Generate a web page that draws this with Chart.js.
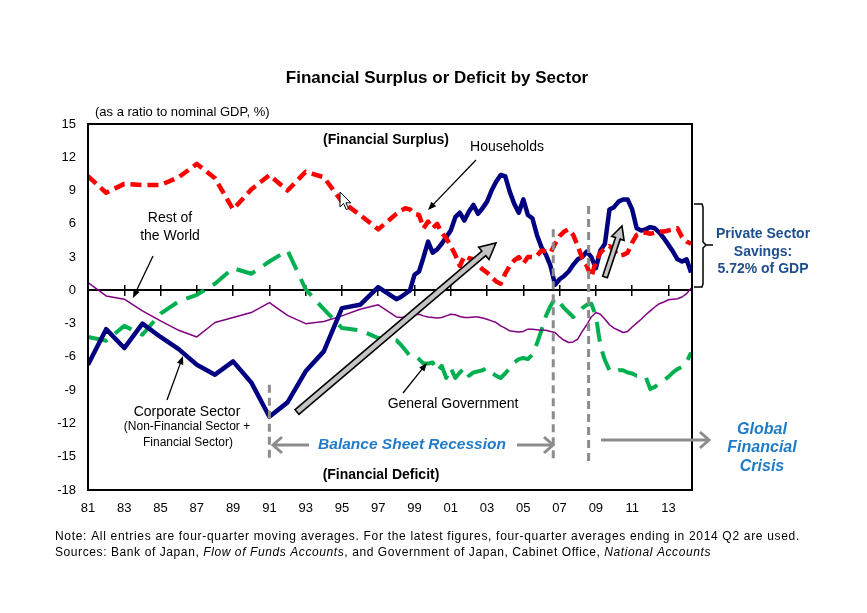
<!DOCTYPE html>
<html>
<head>
<meta charset="utf-8">
<script src="https://cdn.jsdelivr.net/npm/chart.js@4.4.1/dist/chart.umd.min.js"></script>
<style>
  html, body { margin: 0; padding: 0; background: #fff; }
  canvas { display: block; }
</style>
</head>
<body>
<canvas id="sectorChart" width="867" height="613"></canvas>
<script>
// time positions: annual points up to 1997, quarterly from 1998
const periods = [
  1981, 1982, 1983, 1984, 1985, 1986, 1987, 1988, 1989, 1990, 1991, 1992, 1993, 1994, 1995, 1996, 1997,
  1998, 1998.25, 1998.5, 1998.75, 1999, 1999.25, 1999.5, 1999.75,
  2000, 2000.25, 2000.5, 2000.75, 2001, 2001.25, 2001.5, 2001.75,
  2002, 2002.25, 2002.5, 2002.75, 2003, 2003.25, 2003.5, 2003.75,
  2004, 2004.25, 2004.5, 2004.75, 2005, 2005.25, 2005.5, 2005.75,
  2006, 2006.25, 2006.5, 2006.75, 2007, 2007.25, 2007.5, 2007.75,
  2008, 2008.25, 2008.5, 2008.75, 2009, 2009.25, 2009.5, 2009.75,
  2010, 2010.25, 2010.5, 2010.75, 2011, 2011.25, 2011.5, 2011.75,
  2012, 2012.25, 2012.5, 2012.75, 2013, 2013.25, 2013.5, 2013.75,
  2014, 2014.25
];

const households = [
  10.3, 8.8, 9.6, 9.5, 9.5, 10.2, 11.4, 10.1, 7.3, 9.1, 10.4, 9.0, 10.7, 10.2, 8.0, 6.8, 5.5,
  6.9, 7.2, 7.4, 7.3, 6.9, 6.8, 5.6, 6.2,
  5.6, 6.0, 5.2, 4.7, 4.0, 3.2, 2.2, 3.1,
  2.9, 2.8, 2.3, 1.9, 1.6, 1.2, 0.8, 0.6,
  1.5, 2.2, 2.7, 3.0, 2.4, 3.0, 3.0, 3.1,
  3.6, 3.5, 3.4, 4.2, 4.9, 5.3, 5.5, 5.0,
  4.0, 2.9, 2.2, 1.2, 2.6, 3.4, 3.8, 4.0,
  3.6, 3.1, 3.2, 3.4, 4.3, 5.0, 5.2, 5.2,
  5.1, 5.2, 5.3, 5.3, 5.4, 5.5, 5.6, 4.8,
  4.4, 4.2
];

const corporate = [
  -6.7, -3.5, -5.2, -3.0, -4.2, -5.3, -6.7, -7.6, -6.4, -8.3, -11.4, -10.1, -7.3, -5.5, -1.6, -1.3, 0.3,
  -0.8, -0.6, -0.3, 0.0, 1.4, 1.7, 3.0, 4.4,
  3.4, 3.7, 4.2, 4.8, 5.4, 6.6, 7.0, 6.3,
  7.1, 7.7, 6.9, 7.4, 8.0, 9.0, 9.8, 10.4,
  10.3, 8.9, 7.8, 7.0, 8.2, 6.8, 6.5, 5.0,
  3.9, 3.2, 2.2, 0.5, 1.0, 1.3, 1.7, 2.3,
  2.8, 3.0, 3.5, 3.0, 2.0, 3.6, 4.2, 7.3,
  7.5, 8.0, 8.2, 8.2, 7.3, 5.6, 5.4, 5.5,
  5.7, 5.6, 5.2, 4.7, 4.1, 3.5, 2.8, 2.6,
  2.8, 1.6
];

const government = [
  -4.2, -4.55, -3.2, -4.0, -2.1, -1.0, -0.4, 0.6, 2.0, 1.5, 2.6, 3.6, 0.1, -1.7, -3.4, -3.6, -4.3,
  -4.5, -4.9, -5.4, -5.9, -5.9, -6.2, -6.6, -6.6,
  -6.5, -7.3, -6.8, -7.9, -7.0, -7.9, -7.4, -7.0,
  -7.7, -7.4, -7.3, -7.2, -7.0, -7.4, -7.7, -7.9,
  -7.5, -7.0, -6.5, -6.2, -6.1, -6.2, -5.8, -4.8,
  -3.6, -2.3, -1.4, -0.7, -1.1, -1.6, -2.0, -2.4,
  -2.0, -1.6, -1.3, -1.2, -2.3, -5.0, -6.3, -7.2,
  -7.4, -7.2, -7.2, -7.4, -7.5, -7.7, -7.7, -7.8,
  -8.9, -8.7, -8.4, -8.1, -7.8, -7.4, -7.1, -6.9,
  -6.5, -5.6
];

const restOfWorld = [
  0.7, -0.5, -0.8, -1.85, -2.75, -3.6, -4.2, -2.9, -2.45, -2.0, -1.1, -2.25, -3.0, -2.8, -2.3, -1.7, -1.3,
  -2.4, -2.45, -2.4, -2.3, -2.2, -2.15, -2.3, -2.4,
  -2.45, -2.5, -2.45, -2.3, -2.15, -2.2, -2.35, -2.45,
  -2.45, -2.4, -2.4, -2.5, -2.6, -2.75, -2.9, -3.2,
  -3.4, -3.65, -3.7, -3.75, -3.7, -3.5, -3.5, -3.55,
  -3.6, -3.6, -3.7, -3.8, -4.2, -4.5, -4.7, -4.65,
  -4.4, -3.7, -3.1, -2.4, -2.0, -2.15, -2.6, -3.1,
  -3.4, -3.6, -3.8, -3.7, -3.3, -2.95, -2.6, -2.2,
  -1.85, -1.5, -1.2, -1.05, -0.85, -0.8, -0.75, -0.6,
  -0.3, 0.2
];

const tickYears = [1981, 1983, 1985, 1987, 1989, 1991, 1993, 1995, 1997, 1999, 2001, 2003, 2005, 2007, 2009, 2011, 2013];

const FONT = '"Liberation Sans", Arial, sans-serif';

const toPoints = vals => vals.map((v, i) => ({ x: periods[i], y: v }));

function txt(ctx, s, x, y, font, color, align) {
  ctx.font = font;
  ctx.fillStyle = color || "#000";
  ctx.textAlign = align || "center";
  ctx.textBaseline = "middle";
  ctx.fillText(s, x, y);
}

// thin black arrow with a filled head
function arrow(ctx, x1, y1, x2, y2) {
  const a = Math.atan2(y2 - y1, x2 - x1);
  ctx.strokeStyle = "#000";
  ctx.fillStyle = "#000";
  ctx.lineWidth = 1.3;
  ctx.beginPath();
  ctx.moveTo(x1, y1);
  ctx.lineTo(x2 - 6 * Math.cos(a), y2 - 6 * Math.sin(a));
  ctx.stroke();
  ctx.beginPath();
  ctx.moveTo(x2, y2);
  ctx.lineTo(x2 - 9 * Math.cos(a - 0.38), y2 - 9 * Math.sin(a - 0.38));
  ctx.lineTo(x2 - 9 * Math.cos(a + 0.38), y2 - 9 * Math.sin(a + 0.38));
  ctx.closePath();
  ctx.fill();
}

// gray outlined "block" arrow
function blockArrow(ctx, x1, y1, x2, y2, sw, hw, hl) {
  const a = Math.atan2(y2 - y1, x2 - x1);
  const len = Math.hypot(x2 - x1, y2 - y1);
  ctx.save();
  ctx.translate(x1, y1);
  ctx.rotate(a);
  ctx.beginPath();
  ctx.moveTo(0, -sw);
  ctx.lineTo(len - hl, -sw);
  ctx.lineTo(len - hl, -hw);
  ctx.lineTo(len, 0);
  ctx.lineTo(len - hl, hw);
  ctx.lineTo(len - hl, sw);
  ctx.lineTo(0, sw);
  ctx.closePath();
  ctx.fillStyle = "#c4c4c4";
  ctx.fill();
  ctx.strokeStyle = "#000";
  ctx.lineWidth = 1.6;
  ctx.stroke();
  ctx.restore();
}

// gray line arrow with open chevron head
function grayArrow(ctx, x1, y, x2) {
  const d = x2 > x1 ? 1 : -1;
  ctx.strokeStyle = "#8c8c8c";
  ctx.lineWidth = 3;
  ctx.beginPath();
  ctx.moveTo(x1, y);
  ctx.lineTo(x2, y);
  ctx.stroke();
  ctx.beginPath();
  ctx.moveTo(x2 - d * 9, y - 8);
  ctx.lineTo(x2, y);
  ctx.lineTo(x2 - d * 9, y + 8);
  ctx.stroke();
}

function mixedLine(ctx, parts, x, y, targetWidth) {
  ctx.textAlign = "left";
  ctx.textBaseline = "middle";
  ctx.fillStyle = "#000";
  let w = 0, n = 0;
  parts.forEach(([s, it]) => {
    ctx.font = (it ? "italic " : "") + "12px " + FONT;
    w += ctx.measureText(s).width;
    n += s.length;
  });
  const sp = (targetWidth - w) / n;
  let cx = x;
  parts.forEach(([s, it]) => {
    ctx.font = (it ? "italic " : "") + "12px " + FONT;
    ctx.letterSpacing = sp + "px";
    ctx.fillText(s, cx, y);
    cx += ctx.measureText(s).width;
  });
  ctx.letterSpacing = "0px";
}

const decorations = {
  id: "decorations",
  afterDatasetsDraw(chart) {
    const { ctx, chartArea: ca, scales: { x, y } } = chart;
    ctx.save();

    // frame
    ctx.strokeStyle = "#000";
    ctx.lineWidth = 2;
    ctx.strokeRect(ca.left, ca.top, ca.right - ca.left, ca.bottom - ca.top);

    // gray dashed period markers
    ctx.strokeStyle = "#8c8c8c";
    ctx.lineWidth = 3;
    ctx.setLineDash([8, 5]);
    [[1991, -8.5], [2006.65, 5.5], [2008.6, 7.6]].forEach(([yr, top]) => {
      const px = x.getPixelForValue(yr);
      ctx.beginPath();
      ctx.moveTo(px, y.getPixelForValue(top));
      ctx.lineTo(px, y.getPixelForValue(-15.4));
      ctx.stroke();
    });
    ctx.setLineDash([]);

    // block arrows
    blockArrow(ctx, 297, 412, 496, 243, 3, 8, 16);
    blockArrow(ctx, 605, 277, 622, 226, 2.5, 6.5, 13);

    // mouse cursor artifact
    ctx.beginPath();
    const c = [[0, 0], [0, 15], [3.5, 11.5], [6.3, 17.5], [8.6, 16.5], [5.9, 10.8], [10.8, 10.8]];
    c.forEach(([dx, dy], i) => i ? ctx.lineTo(340 + dx, 192 + dy) : ctx.moveTo(340 + dx, 192 + dy));
    ctx.closePath();
    ctx.fillStyle = "#fff";
    ctx.fill();
    ctx.strokeStyle = "#000";
    ctx.lineWidth = 1;
    ctx.stroke();

    // series labels
    const lab = "14px " + FONT;
    txt(ctx, "(Financial Surplus)", 386, 140, "bold 14px " + FONT);
    txt(ctx, "Households", 507, 147, lab);
    arrow(ctx, 476, 160, 428, 210);
    txt(ctx, "Rest of", 170, 218, lab);
    txt(ctx, "the World", 170, 236, lab);
    arrow(ctx, 153, 256, 133, 298);
    txt(ctx, "Corporate Sector", 187, 412, lab);
    txt(ctx, "(Non-Financial Sector +", 187, 427, "12px " + FONT);
    txt(ctx, "Financial Sector)", 188, 443, "12px " + FONT);
    arrow(ctx, 167, 400, 183, 356);
    txt(ctx, "General Government", 453, 404, lab);
    arrow(ctx, 403, 393, 427, 363);
    txt(ctx, "(Financial Deficit)", 381, 475, "bold 14px " + FONT);

    // episodes
    const blue = "#1f7bc9";
    grayArrow(ctx, 309, 445, 273);
    txt(ctx, "Balance Sheet Recession", 412, 445, "italic bold 15.5px " + FONT, blue);
    grayArrow(ctx, 517, 445, 553);
    grayArrow(ctx, 601, 440, 709);
    txt(ctx, "Global", 762, 430, "italic bold 16px " + FONT, blue);
    txt(ctx, "Financial", 762, 448, "italic bold 16px " + FONT, blue);
    txt(ctx, "Crisis", 762, 467, "italic bold 16px " + FONT, blue);

    // private sector savings brace
    ctx.strokeStyle = "#000";
    ctx.lineWidth = 1.5;
    ctx.beginPath();
    ctx.moveTo(694, 204);
    ctx.lineTo(702, 204);
    ctx.lineTo(703, 207);
    ctx.lineTo(703, 242);
    ctx.lineTo(706, 245);
    ctx.lineTo(713, 245);
    ctx.moveTo(706, 245);
    ctx.lineTo(703, 248);
    ctx.lineTo(703, 284);
    ctx.lineTo(702, 287);
    ctx.lineTo(694, 287);
    ctx.stroke();
    const navyTxt = "#1f4e8c";
    txt(ctx, "Private Sector", 763, 234, "bold 14px " + FONT, navyTxt);
    txt(ctx, "Savings:", 763, 252, "bold 14px " + FONT, navyTxt);
    txt(ctx, "5.72% of GDP", 763, 269, "bold 14px " + FONT, navyTxt);

    ctx.restore();
  },
  afterDraw(chart) {
    const { ctx } = chart;
    ctx.save();
    txt(ctx, "Financial Surplus or Deficit by Sector", 437, 78, "bold 17px " + FONT);
    txt(ctx, "(as a ratio to nominal GDP, %)", 95, 112, "13px " + FONT, "#000", "left");
    mixedLine(ctx, [["Note: All entries are four-quarter moving averages. For the latest figures, four-quarter averages ending in 2014 Q2 are used.", false]], 55, 537, 745);
    mixedLine(ctx, [
      ["Sources: Bank of Japan, ", false],
      ["Flow of Funds Accounts", true],
      [", and Government of Japan, Cabinet Office, ", false],
      ["National Accounts", true]
    ], 55, 553, 656);
    ctx.restore();
  }
};

const yearTicks = scale => { scale.ticks = tickYears.map(v => ({ value: v })); };

// zero line axis with tick marks on one side; a twin draws the other side
const zeroAxis = (len, showBorder) => ({
  type: "linear",
  axis: "x",
  position: { y: 0 },
  min: 1981,
  max: 2014.3,
  afterBuildTicks: yearTicks,
  grid: { drawOnChartArea: false, drawTicks: true, tickLength: len, color: "#000", lineWidth: 1.5 },
  border: { display: showBorder, color: "#000", width: 2 },
  ticks: { display: false }
});

new Chart(document.getElementById("sectorChart"), {
  type: "line",
  data: {
    datasets: [
      {
        label: "Households",
        data: toPoints(households),
        borderColor: "#ff0000",
        borderWidth: 4.5,
        borderDash: [11, 6]
      },
      {
        label: "Corporate Sector",
        data: toPoints(corporate),
        borderColor: "#000080",
        borderWidth: 4.5
      },
      {
        label: "Rest of the World",
        data: toPoints(restOfWorld),
        borderColor: "#800080",
        borderWidth: 1.5
      },
      {
        label: "General Government",
        data: toPoints(government),
        borderColor: "#00b050",
        borderWidth: 4,
        borderDash: [20, 10]
      }
    ]
  },
  options: {
    responsive: false,
    animation: false,
    layout: { padding: { left: 48, right: 175, top: 124, bottom: 93 } },
    elements: {
      point: { radius: 0 },
      line: { tension: 0, borderJoinStyle: "round" }
    },
    plugins: {
      legend: { display: false },
      tooltip: { enabled: false }
    },
    scales: {
      x: {
        type: "linear",
        min: 1981,
        max: 2014.3,
        afterBuildTicks: yearTicks,
        afterFit: s => { s.height = 30; },
        grid: { display: false, drawTicks: false },
        border: { display: false },
        ticks: {
          padding: 11,
          color: "#000",
          font: { family: FONT, size: 13 },
          maxRotation: 0,
          autoSkip: false,
          callback: v => String(v).slice(2)
        }
      },
      zero: zeroAxis(5, true),
      zeroTwin: zeroAxis(-5, false),
      y: {
        min: -18,
        max: 15,
        afterFit: s => { s.width = 40; },
        grid: { display: false, drawTicks: false },
        border: { display: false },
        ticks: {
          stepSize: 3,
          padding: 12,
          color: "#000",
          font: { family: FONT, size: 13 }
        }
      }
    }
  },
  plugins: [decorations]
});
</script>
</body>
</html>
